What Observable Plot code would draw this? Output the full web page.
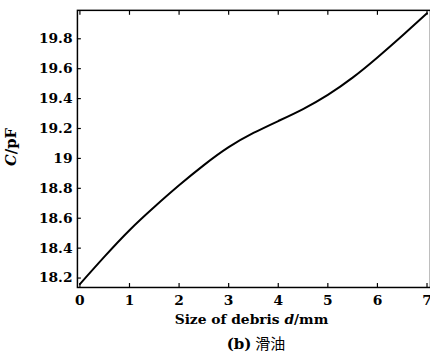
<!DOCTYPE html>
<html><head><meta charset="utf-8">
<script src="https://cdn.jsdelivr.net/npm/d3@7"></script>
<script src="https://cdn.jsdelivr.net/npm/@observablehq/plot@0.6"></script>
<style>
html,body{margin:0;padding:0;background:#fff;overflow:hidden;width:430px;height:363px}
#chart{position:relative;width:430px;height:363px;overflow:hidden}
#cap{position:absolute;left:256px;top:333px;transform:translateX(-50%);white-space:nowrap;font-size:15px;line-height:20px;color:#000}
#cap .b{font-family:"DejaVu Serif";font-weight:bold}
#cap .z{font-family:"Noto Sans CJK SC";font-weight:normal}
</style></head><body><div id="chart"></div>
<script>
const sizes = [0, 0.5, 1, 1.5, 2, 2.5, 3, 3.5, 4, 4.5, 5, 5.5, 6, 6.5, 7];
const caps  = [18.16, 18.345, 18.52, 18.675, 18.82, 18.955, 19.075, 19.17, 19.25, 19.33, 19.425, 19.54, 19.675, 19.82, 19.97];
const xTicks = [0, 1, 2, 3, 4, 5, 6, 7];
const yTicks = [18.2, 18.4, 18.6, 18.8, 19, 19.2, 19.4, 19.6, 19.8];
const xLabelParts = ["Size of debris ", "d", "/mm"];
const yLabelParts = ["C", "/pF"];
const captionParts = ["(b)", "滑油"];

const data = sizes.map((d, i) => ({d, c: caps[i]}));

const plot = Plot.plot({
  width: 436, height: 335,
  marginLeft: 78, marginRight: 0, marginTop: 10, marginBottom: 44,
  style: {fontFamily: "DejaVu Serif", fontSize: "14px", fontWeight: "bold", color: "#000", background: "#fff", overflow: "visible"},
  x: {domain: [-0.05, 7.07]},
  y: {domain: [18.137, 19.99]},
  marks: [
    Plot.frame({stroke: "#000", strokeWidth: 1.5}),
    Plot.axisX(xTicks, {anchor: "bottom", tickSize: -4, tickPadding: 12, label: null, tickFormat: d => String(d), strokeWidth: 1.2}),
    Plot.axisX(xTicks, {anchor: "top", tickSize: -4, tickFormat: () => "", label: null, strokeWidth: 1.2}),
    Plot.axisY(yTicks, {anchor: "left", tickSize: -4, tickPadding: 9, label: null, tickFormat: d => String(d), strokeWidth: 1.2}),
    Plot.line(data, {x: "d", y: "c", curve: "natural", stroke: "#000", strokeWidth: 2})
  ]
});

const svg = d3.select(plot);
const xl = svg.append("text").attr("x", 255).attr("y", 329).attr("text-anchor", "middle")
  .attr("font-family", "DejaVu Serif").attr("font-weight", "bold").attr("font-size", 14).attr("fill", "#000");
xl.append("tspan").text(xLabelParts[0]);
xl.append("tspan").attr("font-style", "italic").text(xLabelParts[1]);
xl.append("tspan").text(xLabelParts[2]);

const yl = svg.append("text").attr("transform", "translate(16,149) rotate(-90)").attr("text-anchor", "middle")
  .attr("font-family", "DejaVu Serif").attr("font-weight", "bold").attr("font-size", 15).attr("fill", "#000");
yl.append("tspan").attr("font-style", "italic").text(yLabelParts[0]);
yl.append("tspan").text(yLabelParts[1]);

const chart = document.getElementById("chart");
chart.appendChild(plot);
const cap = document.createElement("div");
cap.id = "cap";
cap.innerHTML = `<span class="b">${captionParts[0]}</span> <span class="z">${captionParts[1]}</span>`;
chart.appendChild(cap);
</script>
</body></html>
